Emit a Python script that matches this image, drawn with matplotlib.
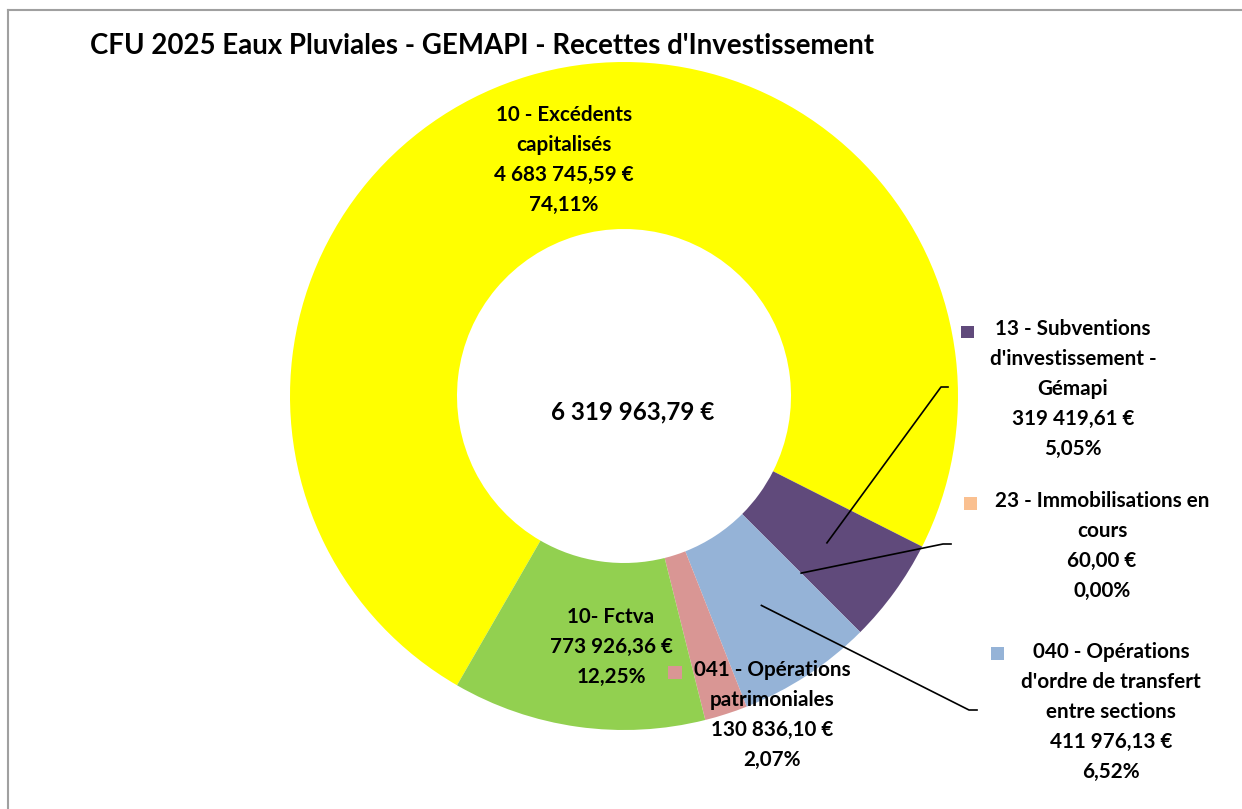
import matplotlib.pyplot as plt
from matplotlib.patches import Rectangle
from matplotlib.lines import Line2D
import numpy as np

plt.rcParams['font.family'] = ['Lato', 'DejaVu Sans']

title = "CFU 2025 Eaux Pluviales - GEMAPI - Recettes d'Investissement"
categories = ["10 - Excédents\ncapitalisés",
              "13 - Subventions\nd'investissement -\nGémapi",
              "23 - Immobilisations en\ncours",
              "040 - Opérations\nd'ordre de transfert\nentre sections",
              "041 - Opérations\npatrimoniales",
              "10- Fctva"]
values = [4683745.59, 319419.61, 60.00, 411976.13, 130836.10, 773926.36]
colors = ["#FFFF00", "#604A7B", "#FAC090", "#95B3D7", "#D99694", "#92D050"]

# layout (pixels from top-left)
W, H = 1242, 809
cx, cy, R = 624, 396, 334
label_pos = [(564, 160), (1073, 389), (1102, 546), (1111, 712), (772, 715), (611, 647)]
key_pos = [None, (967, 332), (970, 503), (997, 653), (675, 672), None]
leaders = {1: [(941, 387), (948, 387)],
           2: [(943, 544), (951, 544)],
           3: [(969, 710), (977, 710)]}


def money(v):
    return f"{v:,.2f}".replace(",", " ").replace(".", ",") + " €"


def fig_xy(px, py):
    return px / W, 1 - py / H


def data_xy(px, py):
    return (px - cx) / R, (cy - py) / R


fig = plt.figure(figsize=(W / 100, H / 100), dpi=100)
ax = fig.add_axes([(cx - R) / W, (H - cy - R) / H, 2 * R / W, 2 * R / H])
wedges, _ = ax.pie(values, colors=colors, startangle=240, counterclock=False,
                   radius=1, wedgeprops=dict(width=0.5, edgecolor='none', linewidth=0))
ax.set_xlim(-1, 1)
ax.set_ylim(-1, 1)
ax.set_aspect('equal')
ax.axis('off')

total = sum(values)
fig.text(*fig_xy(90, 46), title, ha='left', va='center', fontsize=19.9, weight='bold')
fig.text(*fig_xy(633, 412), money(total), ha='center', va='center', fontsize=17.4, weight='bold')

for i, (name, v) in enumerate(zip(categories, values)):
    pct = f"{100 * v / total:.2f}%".replace(".", ",")
    txt = f"{name}\n{money(v)}\n{pct}"
    fig.text(*fig_xy(*label_pos[i]), txt, ha='center', va='center',
             multialignment='center', fontsize=14.9, weight='bold', linespacing=1.62)
    if key_pos[i] is not None:
        kx, ky = key_pos[i]
        fig.add_artist(Rectangle(fig_xy(kx - 6.5, ky + 6.5), 13 / W, 13 / H,
                                 transform=fig.transFigure, color=colors[i], lw=0))
    if i in leaders:
        w = wedges[i]
        mid = np.radians((w.theta1 + w.theta2) / 2)
        xs = [0.75 * np.cos(mid)] + [data_xy(*p)[0] for p in leaders[i]]
        ys = [0.75 * np.sin(mid)] + [data_xy(*p)[1] for p in leaders[i]]
        ax.plot(xs, ys, color='black', lw=1.2, clip_on=False)

# chart frame
fig.add_artist(Line2D([8 / W, 1], [1 - 10 / H, 1 - 10 / H], color='#a0a0a0', lw=1.5))
fig.add_artist(Line2D([8 / W, 8 / W], [0, 1 - 10 / H], color='#a0a0a0', lw=1.5))

fig.savefig("out.png", dpi=100)
